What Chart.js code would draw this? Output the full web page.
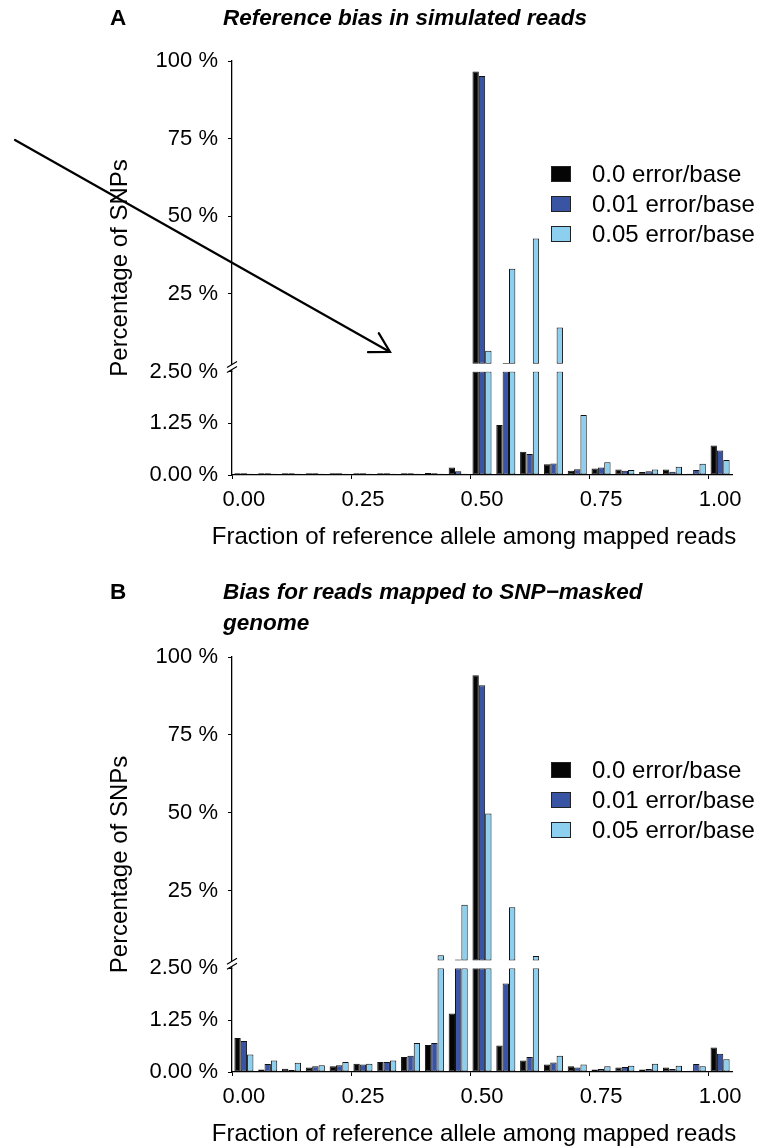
<!DOCTYPE html>
<html>
<head>
<meta charset="utf-8">
<title>Reference bias in simulated reads</title>
<script src="https://cdn.jsdelivr.net/npm/chart.js@4/dist/chart.umd.min.js"></script>
<style>
  html, body { margin: 0; padding: 0; background: #fff; }
  #wrap { position: relative; width: 760px; height: 1146px; }
  canvas { position: absolute; left: 0; }
  #chartA { top: 0; }
  #chartB { top: 560px; }
</style>
</head>
<body>
<div id="wrap">
  <canvas id="chartA" width="760" height="560"></canvas>
  <canvas id="chartB" width="760" height="586"></canvas>
</div>
<script>
// Fraction of reference allele bins, step 0.05
const bins = ['0.00', '0.05', '0.10', '0.15', '0.20', '0.25', '0.30', '0.35', '0.40', '0.45', '0.50',
              '0.55', '0.60', '0.65', '0.70', '0.75', '0.80', '0.85', '0.90', '0.95', '1.00'];
const labeledBins = ['0.00', '0.25', '0.50', '0.75', '1.00'];

const seriesNames = ['0.0 error/base', '0.01 error/base', '0.05 error/base'];
const seriesColors = ['#050505', '#3a54a4', '#8ccfee'];

// A: simulated reads, % of SNPs per bin
const simErr000 = [0.04, 0.04, 0.04, 0.04, 0.04, 0.04, 0.04, 0.04, 0.05, 0.18, 96.6,
                   1.21, 0.56, 0.26, 0.10, 0.16, 0.13, 0.07, 0.13, 0.03, 0.71];
const simErr001 = [0.04, 0.04, 0.04, 0.04, 0.04, 0.04, 0.04, 0.04, 0.04, 0.09, 95.2,
                   2.7, 0.51, 0.28, 0.14, 0.18, 0.10, 0.09, 0.08, 0.12, 0.59];
const simErr005 = [0.03, 0.03, 0.03, 0.03, 0.03, 0.03, 0.03, 0.03, 0.03, 0.03, 6.7,
                   33.1, 42.8, 14.2, 1.45, 0.31, 0.12, 0.13, 0.20, 0.27, 0.36];

// B: reads mapped to the SNP-masked genome
const maskErr000 = [0.82, 0.06, 0.08, 0.11, 0.14, 0.20, 0.24, 0.36, 0.65, 1.41, 94.1,
                    0.64, 0.28, 0.18, 0.14, 0.06, 0.11, 0.06, 0.11, 0.03, 0.59];
const maskErr001 = [0.75, 0.19, 0.05, 0.14, 0.16, 0.18, 0.24, 0.39, 0.70, 2.8, 90.9,
                    2.13, 0.36, 0.23, 0.11, 0.07, 0.12, 0.07, 0.07, 0.19, 0.44];
const maskErr005 = [0.42, 0.28, 0.22, 0.16, 0.24, 0.20, 0.28, 0.70, 4.2, 20.4, 49.7,
                    19.6, 3.9, 0.39, 0.18, 0.14, 0.15, 0.20, 0.15, 0.14, 0.31];

// broken y axis: 0-2.5 below the break, 2.5-100 above it
const BREAK_AT = 2.5;
const lowTicks = [0, 1.25, 2.5];
const highTicks = [25, 50, 75, 100];

const FONT = '"Liberation Sans", Arial, Helvetica, sans-serif';
const AXIS_W = 232;

function buildDatasets(seriesValues) {
  const sets = [];
  seriesValues.forEach((vals, i) => {
    const common = {
      label: seriesNames[i],
      backgroundColor: seriesColors[i],
      borderColor: '#111',
      borderWidth: 1,
      borderSkipped: false,
      stack: 's' + i,
      categoryPercentage: 0.8,
      barPercentage: 1.0
    };
    // part below the break, clipped at the break value
    sets.push(Object.assign({}, common, {
      yAxisID: 'yLow',
      data: vals.map(v => Math.min(v, BREAK_AT))
    }));
    // part above the break, drawn as a floating bar from the break
    sets.push(Object.assign({}, common, {
      yAxisID: 'yHigh',
      data: vals.map(v => (v > BREAK_AT ? [BREAK_AT, v] : null))
    }));
  });
  return sets;
}

// titles, axis labels, legend, axis break and the arrow
const decor = {
  id: 'decor',
  afterDraw(chart, args, opts) {
    const ctx = chart.ctx;
    const area = chart.chartArea;
    ctx.save();
    ctx.fillStyle = '#000';
    ctx.strokeStyle = '#000';
    ctx.textBaseline = 'middle';

    ctx.textAlign = 'left';
    ctx.font = 'bold 22.5px ' + FONT;
    ctx.fillText(opts.letter, 110, opts.titleY);
    ctx.font = 'italic bold 22.5px ' + FONT;
    opts.title.forEach((line, i) => ctx.fillText(line, 223, opts.titleY + i * 31));

    // axis titles
    ctx.font = '24px ' + FONT;
    ctx.textAlign = 'center';
    ctx.fillText('Fraction of reference allele among mapped reads', 474, area.bottom + 62);
    ctx.save();
    ctx.translate(120, (area.top + area.bottom) / 2);
    ctx.rotate(-Math.PI / 2);
    ctx.fillText('Percentage of SNPs', 0, 0);
    ctx.restore();

    // break marks on the y axis
    const yb = chart.scales.yLow.top - 2;
    const x0 = area.left;
    ctx.fillStyle = '#fff';
    ctx.beginPath();
    ctx.moveTo(x0 - 5, yb + 3);
    ctx.lineTo(x0 + 5, yb - 3);
    ctx.lineTo(x0 + 5, yb - 8);
    ctx.lineTo(x0 - 5, yb - 2);
    ctx.closePath();
    ctx.fill();
    ctx.strokeStyle = '#000';
    ctx.lineWidth = 1.2;
    ctx.beginPath();
    ctx.moveTo(x0 - 5, yb + 3); ctx.lineTo(x0 + 5, yb - 3);
    ctx.moveTo(x0 - 5, yb - 2); ctx.lineTo(x0 + 5, yb - 8);
    ctx.stroke();

    // legend
    ctx.textAlign = 'left';
    ctx.font = '24px ' + FONT;
    seriesNames.forEach((name, i) => {
      const cy = area.top + 113 + i * 30;
      ctx.fillStyle = seriesColors[i];
      ctx.fillRect(area.left + 319, cy - 8, 20, 16);
      ctx.strokeStyle = '#222';
      ctx.lineWidth = 1;
      ctx.strokeRect(area.left + 319.5, cy - 7.5, 19, 15);
      ctx.fillStyle = '#000';
      ctx.fillText(name, area.left + 360, cy + 1);
    });

    // annotation arrow
    if (opts.arrow) {
      const [x1, y1, x2, y2] = opts.arrow;
      const ang = Math.atan2(y2 - y1, x2 - x1);
      const head = 22;
      ctx.strokeStyle = '#000';
      ctx.lineWidth = 2.2;
      ctx.lineCap = 'round';
      ctx.beginPath();
      ctx.moveTo(x1, y1); ctx.lineTo(x2, y2);
      ctx.moveTo(x2 - head * Math.cos(ang - 0.52), y2 - head * Math.sin(ang - 0.52));
      ctx.lineTo(x2, y2);
      ctx.lineTo(x2 - head * Math.cos(ang + 0.52), y2 - head * Math.sin(ang + 0.52));
      ctx.stroke();
    }
    ctx.restore();
  }
};

function makeChart(canvasId, seriesValues, panel) {
  const tickFont = { family: FONT, size: 22 };
  const yCommon = {
    type: 'linear',
    position: 'left',
    stack: 'pct',
    stacked: false,
    grid: { drawOnChartArea: false, tickLength: 4, tickColor: '#000', tickWidth: 1 },
    border: { color: '#000', width: 1.3 },
    afterFit: s => { s.width = AXIS_W; }
  };
  return new Chart(document.getElementById(canvasId), {
    type: 'bar',
    data: { labels: bins, datasets: buildDatasets(seriesValues) },
    options: {
      responsive: false,
      animation: false,
      events: [],
      layout: { padding: { top: panel.top, right: 28, left: 0, bottom: 0 } },
      plugins: {
        legend: { display: false },
        tooltip: { enabled: false },
        decor: panel
      },
      scales: {
        x: {
          type: 'category',
          offset: true,
          grid: {
            drawOnChartArea: false,
            tickLength: 4,
            tickWidth: 1,
            tickColor: c => (labeledBins.includes(bins[c.index]) ? '#000' : 'rgba(0,0,0,0)')
          },
          border: { color: '#000', width: 1.3 },
          ticks: {
            autoSkip: false,
            maxRotation: 0,
            color: '#000',
            font: tickFont,
            padding: 8,
            callback: (v, i) => (labeledBins.includes(bins[i]) ? bins[i] : '')
          },
          afterFit: s => { s.height = panel.bottomSpace; }
        },
        // stacked axes are laid out bottom-up in declaration order
        yLow: Object.assign({}, yCommon, {
          stackWeight: 1,
          min: 0,
          max: BREAK_AT,
          afterBuildTicks: s => { s.ticks = lowTicks.map(v => ({ value: v })); },
          ticks: { color: '#000', font: tickFont, padding: 10, callback: v => v.toFixed(2) + ' %' }
        }),
        yHigh: Object.assign({}, yCommon, {
          stackWeight: 3,
          min: 0,
          max: 100,
          afterBuildTicks: s => { s.ticks = highTicks.map(v => ({ value: v })); },
          ticks: { color: '#000', font: tickFont, padding: 10, callback: v => v + ' %' }
        })
      }
    },
    plugins: [decor]
  });
}

makeChart('chartA', [simErr000, simErr001, simErr005], {
  letter: 'A',
  title: ['Reference bias in simulated reads'],
  titleY: 19,
  top: 61,
  bottomSpace: 85,
  arrow: [15, 140, 390, 352]
});

makeChart('chartB', [maskErr000, maskErr001, maskErr005], {
  letter: 'B',
  title: ['Bias for reads mapped to SNP\u2212masked', 'genome'],
  titleY: 33,
  top: 97,
  bottomSpace: 74,
  arrow: null
});
</script>
</body>
</html>
